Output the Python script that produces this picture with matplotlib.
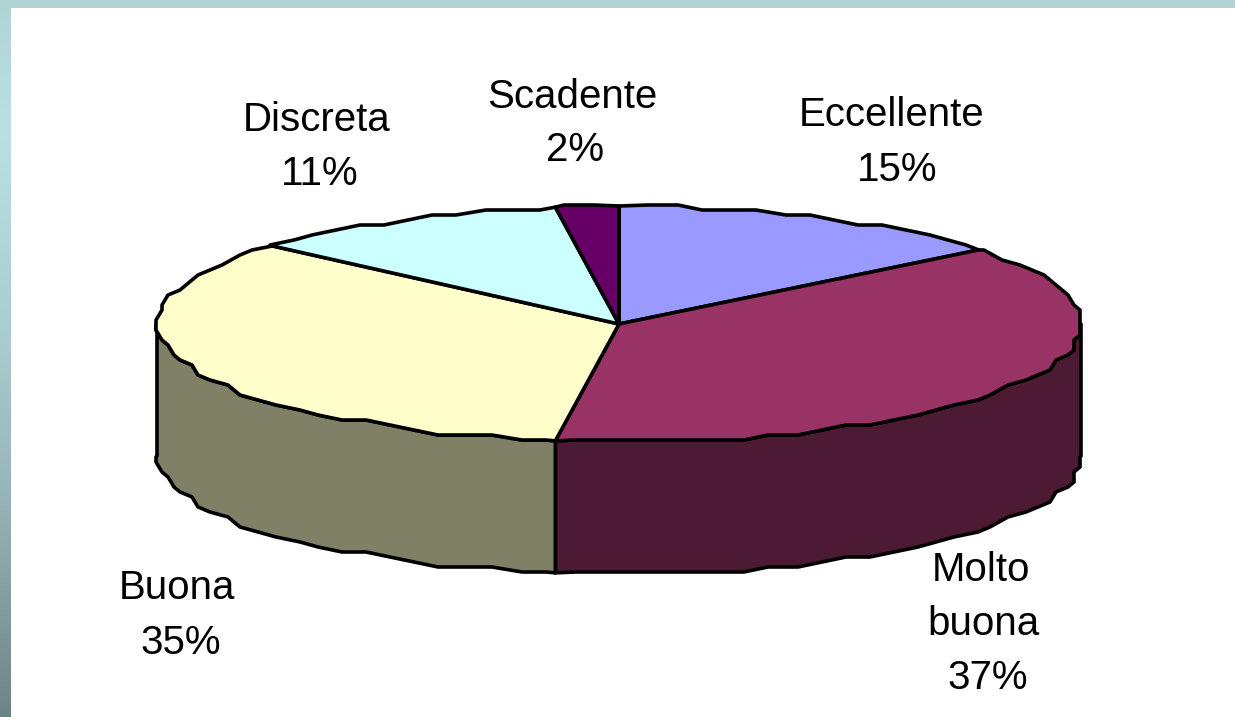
import matplotlib.pyplot as plt
import numpy as np

categories = ['Eccellente', 'Molto\nbuona', 'Buona', 'Discreta', 'Scadente']
percent_labels = ['15%', '37%', '35%', '11%', '2%']
# slice sizes as drawn in the picture (the drawn wedges differ a bit from the printed labels)
shares = [14.2, 38.0, 34.3, 11.3, 2.2]
top_colors = ['#9999FF', '#993366', '#FFFFCC', '#CCFFFF', '#660066']
side_colors = ['#4D4D80', '#4D1A33', '#808066', '#668080', '#330033']

# label line positions in pixels
label_lines = [
    [(892, 115), (897, 170)],
    [(981, 570), (983, 624), (988, 678)],
    [(177, 588), (181, 643)],
    [(317, 120), (320, 174)],
    [(572, 97), (575, 150)],
]

cx, cy = 619, 324
rx, ry = 462, 118
depth = 132


def rim(a0, a1, dy=0):
    # angles in degrees, clockwise from the top; a fixed angle grid and snapping give the rough edge
    step = 3.5
    inner = np.arange(np.ceil(a0 / step + 0.01), np.floor(a1 / step - 0.01) + 1) * step
    t = np.radians(inner)
    x = np.round((cx + rx * np.sin(t)) / 6) * 6
    y = np.round((cy - ry * np.cos(t)) / 5) * 5 + dy
    t0, t1 = np.radians([a0, a1])
    x = np.concatenate([[cx + rx * np.sin(t0)], x, [cx + rx * np.sin(t1)]])
    y = np.concatenate([[cy - ry * np.cos(t0) + dy], y, [cy - ry * np.cos(t1) + dy]])
    return x, y


fig = plt.figure(figsize=(12.35, 7.17), dpi=100, facecolor='white')
ax = fig.add_axes([0, 0, 1, 1])
ax.set_xlim(0, 1235)
ax.set_ylim(717, 0)
ax.axis('off')

# background gradient, only showing in the top and left bands
stops_y = [0, 130, 330, 500, 717]
stops_r = [176, 186, 170, 150, 108]
stops_g = [212, 224, 205, 180, 132]
stops_b = [214, 226, 208, 183, 134]
yy = np.arange(717)
grad = np.stack([np.interp(yy, stops_y, stops_r),
                 np.interp(yy, stops_y, stops_g),
                 np.interp(yy, stops_y, stops_b)], axis=1)[:, None, :] / 255
ax.imshow(grad, extent=[0, 1235, 717, 0], aspect='auto', zorder=0)
ax.fill([11, 1235, 1235, 11], [8, 8, 717, 717], color='white', lw=0, zorder=1)
ax.set_xlim(0, 1235)
ax.set_ylim(717, 0)

edges = np.concatenate([[0], np.cumsum(shares)]) / sum(shares) * 360

# side wall, only the front half of the rim
for i in range(len(shares)):
    a0 = max(edges[i], 90)
    a1 = min(edges[i + 1], 270)
    if a1 <= a0:
        continue
    x0, y0 = rim(a0, a1)
    x1, y1 = rim(a0, a1, depth)
    ax.fill(np.concatenate([x0, x1[::-1]]), np.concatenate([y0, y1[::-1]]),
            facecolor=side_colors[i], edgecolor='black', lw=2.6, joinstyle='round', zorder=2)

# top face
for i in range(len(shares)):
    x0, y0 = rim(edges[i], edges[i + 1])
    ax.fill(np.concatenate([[cx], x0]), np.concatenate([[cy], y0]),
            facecolor=top_colors[i], edgecolor='black', lw=2.6, joinstyle='round', zorder=3)

for i, name in enumerate(categories):
    lines = name.split('\n') + [percent_labels[i]]
    for (px, py), line in zip(label_lines[i], lines):
        ax.text(px, py, line, family='Liberation Sans', fontsize=29, color='black',
                ha='center', va='center', zorder=4)

fig.savefig('out.png', dpi=100)
